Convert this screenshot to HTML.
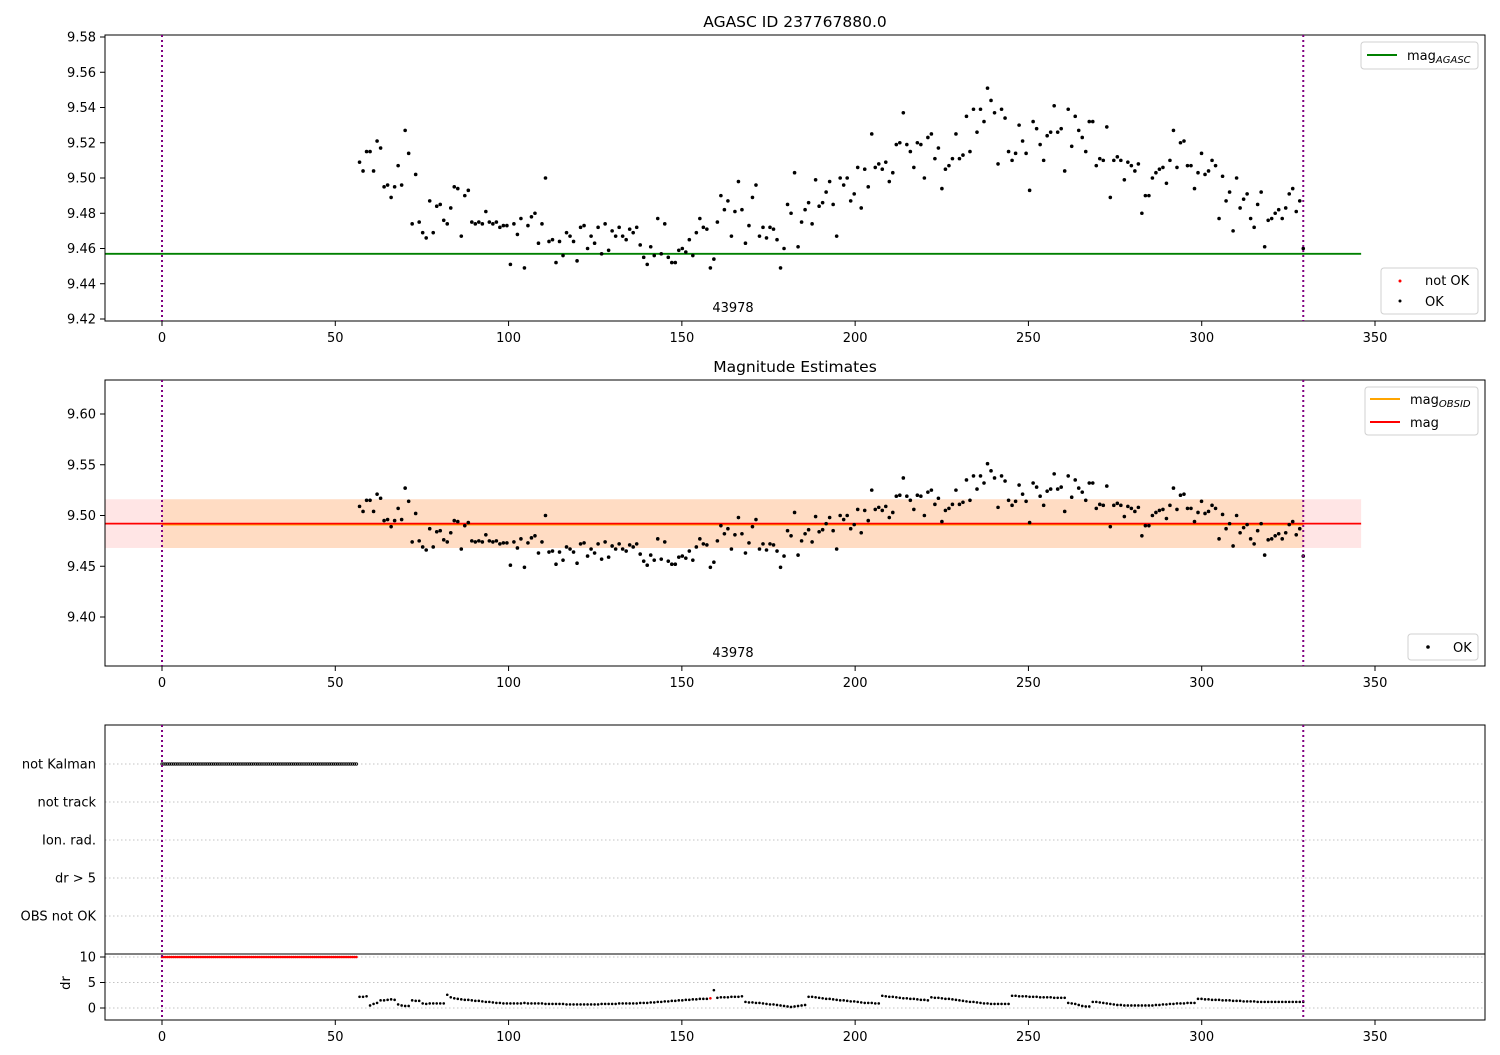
<!DOCTYPE html>
<html><head><meta charset="utf-8"><style>
body{margin:0;background:#fff;}
svg{font-family:"DejaVu Sans","Liberation Sans",sans-serif;}
</style></head><body>
<svg id="c" width="1500" height="1050" xmlns="http://www.w3.org/2000/svg"></svg>
<script>
const magValues=[9.509,9.504,9.515,9.515,9.504,9.521,
9.517,9.495,9.496,9.489,9.495,9.507,9.496,9.527,
9.514,9.474,9.502,9.475,9.469,9.466,9.487,9.469,9.484,9.485,
9.476,9.474,9.483,9.495,9.494,9.467,9.490,9.493,9.475,9.474,
9.475,9.474,9.481,9.475,9.474,9.475,9.472,9.473,9.473,9.451,
9.474,9.468,9.477,9.449,9.473,9.478,9.480,9.463,9.474,9.500,
9.464,9.465,9.452,9.464,9.456,9.469,9.467,9.464,9.453,9.472,
9.473,9.460,9.467,9.463,9.472,9.457,9.474,9.459,9.470,9.467,
9.472,9.467,9.465,9.471,9.469,9.472,9.462,9.455,9.451,9.461,
9.456,9.477,9.457,9.474,9.455,9.452,9.452,9.459,9.460,9.458,
9.465,9.456,9.469,9.477,9.472,9.471,9.449,9.454,9.475,9.490,
9.482,9.487,9.467,9.481,9.498,9.482,9.463,9.473,9.489,9.496,
9.467,9.472,9.466,9.472,9.471,9.465,9.449,9.460,9.485,9.480,
9.503,9.461,9.475,9.482,9.486,9.474,9.499,9.484,9.486,9.492,
9.498,9.485,9.467,9.500,9.496,9.500,9.487,9.491,9.506,9.483,
9.505,9.495,9.525,9.506,9.508,9.505,9.509,9.498,9.503,9.519,
9.520,9.537,9.519,9.515,9.506,9.520,9.519,9.500,9.523,9.525,
9.511,9.517,9.494,9.505,9.507,9.511,9.525,9.511,9.513,9.535,
9.515,9.539,9.526,9.539,9.532,9.551,9.544,9.537,9.508,9.539,
9.534,9.515,9.510,9.514,9.530,9.521,9.514,9.493,9.532,9.528,
9.519,9.510,9.524,9.526,9.541,9.526,9.528,9.504,9.539,9.518,
9.535,9.527,9.523,9.515,9.532,9.532,9.507,9.511,9.510,9.529,
9.489,9.510,9.512,9.510,9.499,9.509,9.507,9.504,9.508,9.480,
9.490,9.490,9.500,9.503,9.505,9.506,9.497,9.510,9.527,9.506,
9.520,9.521,9.507,9.507,9.494,9.503,9.514,9.502,9.504,9.510,
9.507,9.477,9.501,9.487,9.492,9.470,9.500,9.483,9.488,9.491,
9.477,9.472,9.485,9.492,9.461,9.476,9.477,9.480,9.482,9.477,
9.483,9.491,9.494,9.481,9.487,9.460];
const drValues=[2.2,2.2,2.3,0.5,0.8,1.0,
1.5,1.5,1.6,1.7,1.6,0.7,0.5,0.4,
0.4,1.5,1.4,1.4,0.9,0.8,0.9,0.9,0.9,0.9,
0.9,2.6,2.1,1.9,1.8,1.7,1.6,1.6,1.5,1.4,
1.4,1.3,1.2,1.2,1.1,1.0,1.0,0.9,0.9,0.9,
0.9,0.9,0.9,1.0,0.9,0.9,0.9,0.9,0.9,0.8,
0.8,0.8,0.8,0.8,0.8,0.7,0.7,0.7,0.7,0.7,
0.7,0.7,0.7,0.7,0.7,0.8,0.8,0.8,0.8,0.8,
0.9,0.9,0.9,0.9,0.9,0.9,1.0,1.0,1.0,1.1,
1.1,1.2,1.2,1.3,1.3,1.4,1.4,1.5,1.5,1.6,
1.6,1.7,1.7,1.8,1.8,1.8,1.9,3.5,2.0,2.1,
2.1,2.1,2.2,2.2,2.2,2.3,1.2,1.1,1.1,1.0,
1.0,0.9,0.8,0.7,0.7,0.6,0.5,0.4,0.3,0.2,
0.3,0.4,0.5,0.6,2.2,2.2,2.1,2.0,1.9,1.8,
1.8,1.7,1.6,1.5,1.5,1.4,1.3,1.3,1.2,1.1,
1.0,1.0,1.0,0.9,0.9,2.4,2.3,2.2,2.2,2.1,
2.0,1.9,1.9,1.8,1.8,1.7,1.6,1.6,1.5,2.1,
2.0,2.0,1.9,1.8,1.8,1.7,1.6,1.5,1.4,1.3,
1.2,1.2,1.1,1.0,0.9,0.9,0.8,0.8,0.8,0.8,
0.8,0.8,2.4,2.4,2.3,2.3,2.3,2.2,2.2,2.2,
2.1,2.1,2.1,2.1,2.0,2.0,2.0,2.0,1.0,0.9,
0.8,0.6,0.4,0.3,0.3,1.2,1.2,1.1,1.0,0.9,
0.8,0.7,0.6,0.6,0.5,0.5,0.5,0.5,0.5,0.5,
0.5,0.5,0.5,0.6,0.6,0.7,0.7,0.8,0.8,0.9,
0.9,0.9,1.0,1.0,1.0,1.8,1.8,1.7,1.7,1.6,
1.6,1.6,1.5,1.5,1.5,1.4,1.4,1.4,1.3,1.3,
1.3,1.3,1.2,1.2,1.2,1.2,1.2,1.2,1.2,1.2,
1.2,1.2,1.2,1.2,1.2,1.2];
const notOkIndex=[100];
const timeStart=57, timeEnd=329.3;
const agascMag=9.457, obsMag=9.492, obsErr=0.024, lastTime=329.3, lineEnd=346;
const earlyStart=0, earlyEnd=56.5, earlyStep=0.55;
const xTicks=[0,50,100,150,200,250,300,350];
const y1Ticks=[9.42,9.44,9.46,9.48,9.50,9.52,9.54,9.56,9.58];
const y2Ticks=[9.40,9.45,9.50,9.55,9.60];
const categories=["not Kalman","not track","Ion. rad.","dr > 5","OBS not OK"];
const drTicks=[0,5,10];

const svg=document.getElementById('c');
const NS="http://www.w3.org/2000/svg";
function mk(tag,attrs,name,parent){const e=document.createElementNS(NS,tag);for(const k in attrs)e.setAttribute(k,attrs[k]);


(parent||svg).appendChild(e);return e;}
function txt(x,y,s,name,opt){const t=mk('text',Object.assign({x:x,y:y,'font-size':13,fill:'#000'},opt||{}),name);t.textContent=s;return t;}
const X=t=>162+t*(1213/350);
const Y1=m=>37+(9.58-m)*1762.5;
const Y2=m=>414+(9.60-m)*1015;
const YD=d=>1008-Math.min(d,10)*5.1;
const catY=[764,802,840,878,916];
const n=magValues.length;
const T=i=>timeStart+i*(timeEnd-timeStart)/(n-1);

// panel 1
mk('line',{x1:105,x2:X(lineEnd),y1:Y1(agascMag),y2:Y1(agascMag),stroke:'#008000','stroke-width':1.8},'agasc-mag-line');
magValues.forEach((m,i)=>{mk('circle',{cx:X(T(i)),cy:Y1(m),r:1.8,fill:'#000'},'ok-point-top');});
// panel 2
mk('rect',{x:105,y:Y2(obsMag+obsErr),width:X(lineEnd)-105,height:Y2(obsMag-obsErr)-Y2(obsMag+obsErr),fill:'#ff0000','fill-opacity':0.1},'mag-error-band');
mk('rect',{x:X(0),y:Y2(obsMag+obsErr),width:X(lastTime)-X(0),height:Y2(obsMag-obsErr)-Y2(obsMag+obsErr),fill:'#ffa500','fill-opacity':0.15},'obsid-error-band');
mk('line',{x1:X(0),x2:X(lastTime),y1:Y2(obsMag)+1,y2:Y2(obsMag)+1,stroke:'#ffa500','stroke-width':1.8},'obsid-mag-line');
mk('line',{x1:105,x2:X(lineEnd),y1:Y2(obsMag),y2:Y2(obsMag),stroke:'#ff0000','stroke-width':1.8},'mag-line');
magValues.forEach((m,i)=>{mk('circle',{cx:X(T(i)),cy:Y2(m),r:1.8,fill:'#000'},'ok-point-mid');});
// panel 3 grid
catY.forEach((y,i)=>{mk('line',{x1:105,x2:1485,y1:y,y2:y,stroke:'#b0b0b0','stroke-width':0.8,'stroke-dasharray':'1.5,2.5'},'category-grid');
txt(96,y+4.5,categories[i],'category-label',{'text-anchor':'end'});});
drTicks.forEach(d=>{mk('line',{x1:105,x2:1485,y1:YD(d),y2:YD(d),stroke:'#b0b0b0','stroke-width':0.8,'stroke-dasharray':'1.5,2.5'},'dr-grid');
mk('line',{x1:100,x2:105,y1:YD(d),y2:YD(d),stroke:'#000'},'dr-tick');
txt(96,YD(d)+4.5,String(d),'dr-tick-label',{'text-anchor':'end'});});
mk('line',{x1:105,x2:1485,y1:954,y2:954,stroke:'#000','stroke-width':1},'dr-axes-top');
for(let t=earlyStart;t<=earlyEnd;t+=earlyStep){
mk('circle',{cx:X(t),cy:catY[0],r:1.2,fill:'none',stroke:'#000','stroke-width':0.8},'not-kalman-mark');
mk('circle',{cx:X(t),cy:YD(10),r:1.3,fill:'#f00'},'dr-clipped-mark');}
drValues.forEach((d,i)=>{const bad=notOkIndex.includes(i);
mk('circle',{cx:X(T(i)),cy:YD(d),r:1.3,fill:bad?'#f00':'#000'},'dr-point');});
const dl=txt(70,983,'dr','dr-axis-title',{'text-anchor':'middle',transform:'rotate(-90 70 983)'});

// frames and axes
[[35,321],[380,666],[725,1020]].forEach((p,k)=>{
mk('rect',{x:105,y:p[0],width:1380,height:p[1]-p[0],fill:'none',stroke:'#000','stroke-width':1},'axes-frame');
xTicks.forEach(v=>{mk('line',{x1:X(v),x2:X(v),y1:p[1],y2:p[1]+5,stroke:'#000'},'x-tick');
txt(X(v),p[1]+21,String(v),'x-tick-label',{'text-anchor':'middle'});});
mk('line',{x1:X(0),x2:X(0),y1:p[0],y2:p[1],stroke:'#800080','stroke-width':2,'stroke-dasharray':'2,3'},'start-marker');
mk('line',{x1:X(lastTime),x2:X(lastTime),y1:p[0],y2:p[1],stroke:'#800080','stroke-width':2,'stroke-dasharray':'2,3'},'end-marker');
});
y1Ticks.forEach(v=>{mk('line',{x1:100,x2:105,y1:Y1(v),y2:Y1(v),stroke:'#000'},'y-tick');txt(96,Y1(v)+4.5,v.toFixed(2),'y-tick-label',{'text-anchor':'end'});});
y2Ticks.forEach(v=>{mk('line',{x1:100,x2:105,y1:Y2(v),y2:Y2(v),stroke:'#000'},'y-tick');txt(96,Y2(v)+4.5,v.toFixed(2),'y-tick-label',{'text-anchor':'end'});});
txt(795,27,'AGASC ID 237767880.0','chart-title',{'text-anchor':'middle','font-size':15.5});
txt(795,372,'Magnitude Estimates','panel-title',{'text-anchor':'middle','font-size':15.5});
txt(733,312,'43978','obsid-label',{'text-anchor':'middle'});
txt(733,657,'43978','obsid-label',{'text-anchor':'middle'});

// legends
function box(x,y,w,h,name){mk('rect',{x:x,y:y,width:w,height:h,rx:3,fill:'#fff','fill-opacity':0.8,stroke:'#d0d0d0'},name);}
box(1361,42,117,27,'legend-agasc');
mk('line',{x1:1367,x2:1397,y1:55,y2:55,stroke:'#008000','stroke-width':2},'legend-agasc-line');
let t1=txt(1407,60,'mag','legend-agasc-text');
const s1=document.createElementNS(NS,'tspan');s1.setAttribute('font-size',10);s1.setAttribute('font-style','italic');s1.setAttribute('dy',3);s1.textContent='AGASC';t1.appendChild(s1);
box(1381,268,97,46,'legend-status');
mk('circle',{cx:1400,cy:281,r:1.5,fill:'#f00'},'legend-notok-marker');txt(1425,285,'not OK','legend-notok-text');
mk('circle',{cx:1400,cy:301,r:1.5,fill:'#000'},'legend-ok-marker');txt(1425,306,'OK','legend-ok-text');
box(1365,387,113,48,'legend-mag');
mk('line',{x1:1370,x2:1400,y1:399,y2:399,stroke:'#ffa500','stroke-width':2},'legend-obsid-line');
let t2=txt(1410,404,'mag','legend-obsid-text');
const s2=document.createElementNS(NS,'tspan');s2.setAttribute('font-size',10);s2.setAttribute('font-style','italic');s2.setAttribute('dy',3);s2.textContent='OBSID';t2.appendChild(s2);
mk('line',{x1:1370,x2:1400,y1:422,y2:422,stroke:'#f00','stroke-width':2},'legend-mag-line');txt(1410,427,'mag','legend-mag-text');
box(1408,634,70,26,'legend-ok2');
mk('circle',{cx:1428,cy:647,r:1.8,fill:'#000'},'legend-ok2-marker');txt(1453,652,'OK','legend-ok2-text');
</script>
</body></html>
